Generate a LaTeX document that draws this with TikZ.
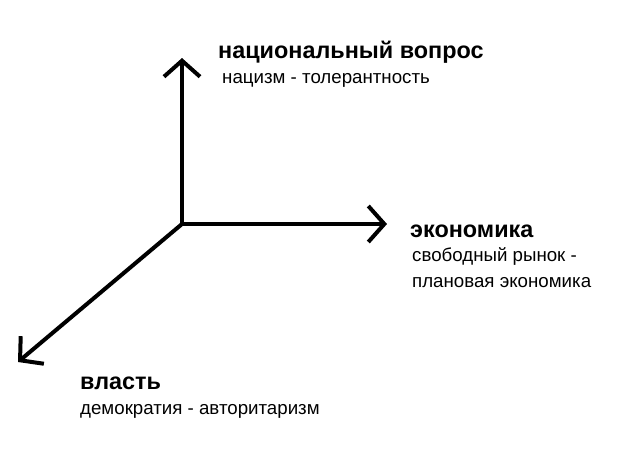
\documentclass[tikz,border=0pt]{standalone}
\usepackage{fontspec}
\setmainfont{Liberation Sans}
\usetikzlibrary{arrows.meta}
\tikzset{
  axis/.style={line width=4pt, -{Straight Barb[length=16pt,width=36pt,line width=4pt]}},
  title/.style={font=\bfseries\fontsize{23.4}{26}\selectfont, anchor=base west, inner sep=0pt},
  sub/.style={font=\fontsize{18.7}{22}\selectfont, anchor=base west, inner sep=0pt}
}
\begin{document}
\begin{tikzpicture}[x=1pt,y=-1pt]
\useasboundingbox (0,0) rectangle (627,461);
\coordinate (o) at (182,224);
\coordinate (up) at (182,58);
\coordinate (right) at (387,224);
\coordinate (left) at (18,362);
\draw [axis] (o) -- (up);
\draw [axis] (o) -- (right);
\draw [axis] (o) -- (left);

\node [title] (nat) at (218,58) {национальный вопрос};
\node [sub] (natsub) at (222,83) {нацизм - толерантность};
\node [title] (eco) at (410,237) {экономика};
\node [sub] (ecosub1) at (412,261) {свободный рынок -};
\node [sub] (ecosub2) at (412,287) {плановая экономика};
\node [title] (pow) at (80,389) {власть};
\node [sub] (powsub) at (80,414) {демократия - авторитаризм};
\end{tikzpicture}
\end{document}
